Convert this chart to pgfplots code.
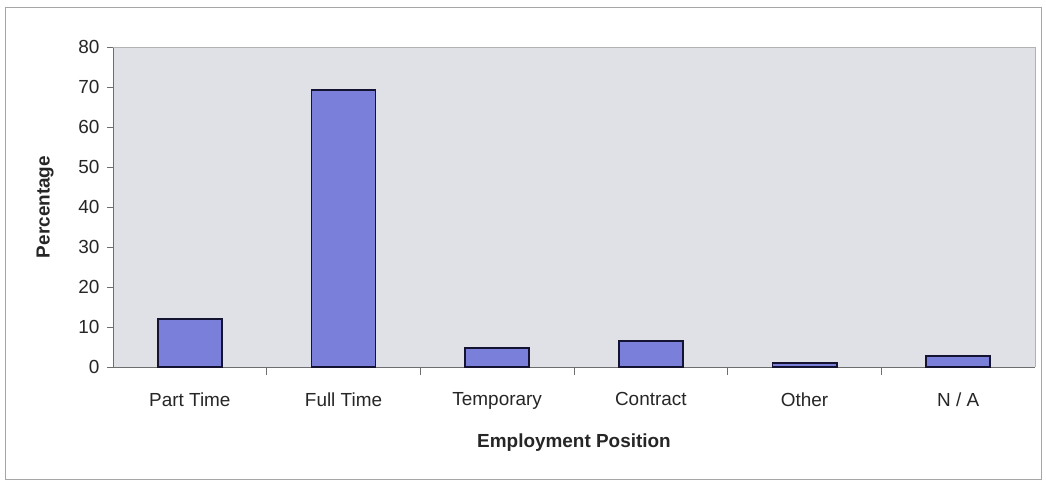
\documentclass[border=0pt]{standalone}
\usepackage{fontspec}
\setmainfont{Liberation Sans}
\usepackage{pgfplots}
\pgfplotsset{compat=1.18}
\definecolor{barfill}{RGB}{122,128,218}
\definecolor{barline}{RGB}{20,20,50}
\definecolor{plotbg}{RGB}{223,225,230}
\definecolor{axisgray}{RGB}{110,110,110}
\begin{document}
\begin{tikzpicture}
\path[use as bounding box] (-113bp,-116bp) rectangle (933bp,367bp);
\fill[white] (-113bp,-116bp) rectangle (933bp,367bp);
\draw[line width=1pt, color=black!35] (-108bp,-112bp) rectangle (928bp,359bp);
\begin{axis}[
  at={(0,0)}, anchor=south west,
  scale only axis,
  width=922bp, height=320bp,
  xmin=-0.5, xmax=5.5,
  ymin=0, ymax=80,
  ytick={0,10,...,80},
  xtick={0,1,2,3,4,5},
  xticklabels={Part Time, Full Time, Temporary, Contract, Other, N / A},
  minor xtick={0.5,1.5,2.5,3.5,4.5},
  major x tick style={draw=none},
  minor x tick style={axisgray, line width=0.6pt},
  minor tick length=8bp,
  y tick style={axisgray, line width=0.6pt},
  ytick align=outside,
  xtick align=center,
  major tick length=6bp,
  axis background/.style={fill=plotbg},
  axis x line*=bottom,
  axis y line*=left,
  x axis line style={draw=axisgray, line width=0.8pt, -},
  y axis line style={draw=axisgray, line width=0.8pt, -},
  tick label style={font=\fontsize{19}{21}\selectfont, text=black!85},
  /pgf/number format/assume math mode=true,
  xticklabel style={yshift=-16bp},
  yticklabel style={xshift=-4bp},
  xlabel={\bfseries Employment Position},
  ylabel={\bfseries Percentage},
  label style={font=\fontsize{19}{21}\selectfont, text=black!85},
  xlabel style={at={(axis description cs:0.5,0)}, anchor=center, yshift=-76bp},
  ylabel style={at={(axis description cs:0,0.5)}, anchor=center, rotate=0, yshift=68bp},
  ybar, bar width=64bp,
  clip=false,
]
\addplot[fill=barfill, draw=barline, line width=2pt] coordinates {
  (0,12) (1,69.2) (2,4.7) (3,6.5) (4,1.1) (5,2.8)
};
\draw[color=black!30, line width=0.6pt] (axis cs:-0.5,80) -- (axis cs:5.5,80) -- (axis cs:5.5,0);
\end{axis}
\end{tikzpicture}
\end{document}
